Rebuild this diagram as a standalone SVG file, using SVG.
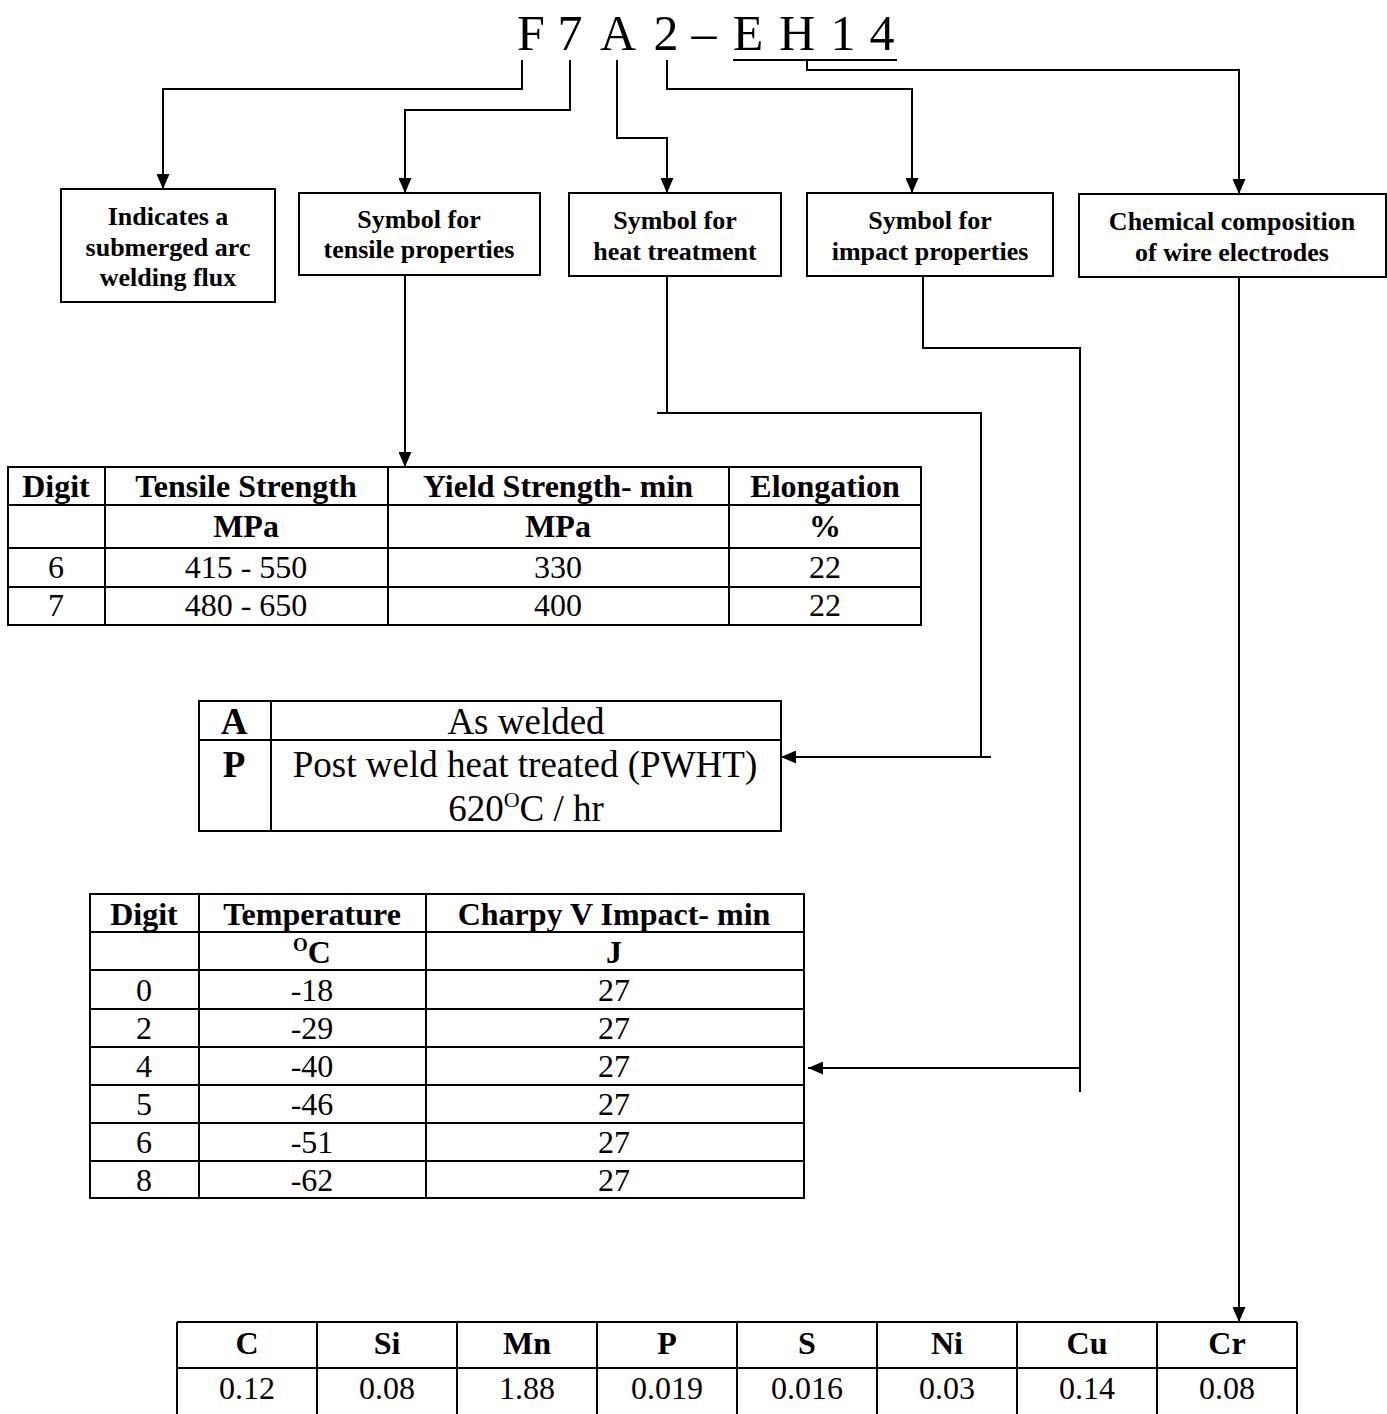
<svg xmlns="http://www.w3.org/2000/svg" width="1387" height="1414" viewBox="0 0 1387 1414">
<style>
.t{font-family:"Liberation Serif","Times New Roman",serif;fill:#000}
.title{font-size:50px}
.bx{font-size:26px;font-weight:bold;text-anchor:middle}
.h{font-size:32px;font-weight:bold;text-anchor:middle}
.d{font-size:32px;text-anchor:middle}
.ht{font-size:37px;text-anchor:middle}
.box{fill:#fff;stroke:#000;stroke-width:2}
.ln{fill:none;stroke:#000;stroke-width:2}
.c{fill:none;stroke:#000;stroke-width:2}
</style>
<defs>
<marker id="ah" viewBox="0 0 15 13" refX="15" refY="6.5" markerWidth="15" markerHeight="13" markerUnits="userSpaceOnUse" orient="auto">
<path d="M0,0 L15,6.5 L0,13 Z" fill="#000"/>
</marker>
</defs>
<rect width="1387" height="1414" fill="#fff"/>

<g id="title" class="t title" text-anchor="middle">
<text x="531" y="50">F</text>
<text x="570" y="50">7</text>
<text x="618" y="50">A</text>
<text x="666" y="50">2</text>
<text x="704" y="50">–</text>
<text x="748" y="50">E</text>
<text x="797" y="50">H</text>
<text x="843" y="50">1</text>
<text x="882" y="50">4</text>
<line x1="733" y1="60" x2="897" y2="60" stroke="#000" stroke-width="2"/>
</g>

<g id="connectors">
<polyline class="c" points="522,60 522,89 163,89 163,189" marker-end="url(#ah)"/>
<polyline class="c" points="570,60 570,110 405,110 405,193" marker-end="url(#ah)"/>
<polyline class="c" points="617,60 617,138 667,138 667,193" marker-end="url(#ah)"/>
<polyline class="c" points="667,60 667,89 912,89 912,193" marker-end="url(#ah)"/>
<polyline class="c" points="807,60 807,70 1239,70 1239,194" marker-end="url(#ah)"/>
<line class="c" x1="405" y1="275" x2="405" y2="467" marker-end="url(#ah)"/>
<polyline class="c" points="667,276 667,413"/>
<polyline class="c" points="657,413 981,413 981,757"/>
<line class="c" x1="991" y1="757" x2="781" y2="757" marker-end="url(#ah)"/>
<polyline class="c" points="923,276 923,348 1080,348 1080,1092"/>
<line class="c" x1="1080" y1="1068" x2="808" y2="1068" marker-end="url(#ah)"/>
<line class="c" x1="1239" y1="277" x2="1239" y2="1322" marker-end="url(#ah)"/>
</g>

<g id="node-flux">
<rect class="box" x="61" y="189" width="214" height="113"/>
<text class="t bx" x="168" y="225">Indicates a</text>
<text class="t bx" x="168" y="256">submerged arc</text>
<text class="t bx" x="168" y="286">welding flux</text>
</g>
<g id="node-tensile">
<rect class="box" x="299" y="193" width="241" height="82"/>
<text class="t bx" x="419" y="228">Symbol for</text>
<text class="t bx" x="419" y="258">tensile properties</text>
</g>
<g id="node-heat">
<rect class="box" x="569" y="193" width="212" height="83"/>
<text class="t bx" x="675" y="229">Symbol for</text>
<text class="t bx" x="675" y="260">heat treatment</text>
</g>
<g id="node-impact">
<rect class="box" x="807" y="193" width="246" height="83"/>
<text class="t bx" x="930" y="229">Symbol for</text>
<text class="t bx" x="930" y="260">impact properties</text>
</g>
<g id="node-chem">
<rect class="box" x="1079" y="194" width="307" height="83"/>
<text class="t bx" x="1232" y="230">Chemical composition</text>
<text class="t bx" x="1232" y="261">of wire electrodes</text>
</g>

<g id="table-tensile">
<rect class="box" x="8" y="467" width="913" height="158"/>
<line class="ln" x1="8" y1="505" x2="921" y2="505"/>
<line class="ln" x1="8" y1="548" x2="921" y2="548"/>
<line class="ln" x1="8" y1="587" x2="921" y2="587"/>
<line class="ln" x1="105" y1="467" x2="105" y2="625"/>
<line class="ln" x1="388" y1="467" x2="388" y2="625"/>
<line class="ln" x1="729" y1="467" x2="729" y2="625"/>
<text class="t h" x="56" y="497">Digit</text>
<text class="t h" x="246" y="497">Tensile Strength</text>
<text class="t h" x="558" y="497">Yield Strength- min</text>
<text class="t h" x="825" y="497">Elongation</text>
<text class="t h" x="246" y="537">MPa</text>
<text class="t h" x="558" y="537">MPa</text>
<text class="t h" x="825" y="537">%</text>
<text class="t d" x="56" y="578">6</text>
<text class="t d" x="246" y="578">415 - 550</text>
<text class="t d" x="558" y="578">330</text>
<text class="t d" x="825" y="578">22</text>
<text class="t d" x="56" y="616">7</text>
<text class="t d" x="246" y="616">480 - 650</text>
<text class="t d" x="558" y="616">400</text>
<text class="t d" x="825" y="616">22</text>
</g>

<g id="table-heat">
<rect class="box" x="199" y="701" width="582" height="130"/>
<line class="ln" x1="199" y1="740" x2="781" y2="740"/>
<line class="ln" x1="271" y1="701" x2="271" y2="831"/>
<text class="t ht" x="234" y="734" font-weight="bold">A</text>
<text class="t ht" x="526" y="734">As welded</text>
<text class="t ht" x="234" y="777" font-weight="bold">P</text>
<text class="t ht" x="525" y="777">Post weld heat treated (PWHT)</text>
<text class="t ht" x="526" y="821">620<tspan font-size="22" dy="-14">O</tspan><tspan dy="14">C / hr</tspan></text>
</g>

<g id="table-impact">
<rect class="box" x="90" y="894" width="714" height="304"/>
<line class="ln" x1="90" y1="932" x2="804" y2="932"/>
<line class="ln" x1="90" y1="970" x2="804" y2="970"/>
<line class="ln" x1="90" y1="1009" x2="804" y2="1009"/>
<line class="ln" x1="90" y1="1047" x2="804" y2="1047"/>
<line class="ln" x1="90" y1="1085" x2="804" y2="1085"/>
<line class="ln" x1="90" y1="1123" x2="804" y2="1123"/>
<line class="ln" x1="90" y1="1161" x2="804" y2="1161"/>
<line class="ln" x1="199" y1="894" x2="199" y2="1198"/>
<line class="ln" x1="426" y1="894" x2="426" y2="1198"/>
<text class="t h" x="144" y="925">Digit</text>
<text class="t h" x="312" y="925">Temperature</text>
<text class="t h" x="614" y="925">Charpy V Impact- min</text>
<text class="t h" x="312" y="963"><tspan font-size="19" dy="-12">O</tspan><tspan dy="12">C</tspan></text>
<text class="t h" x="614" y="963">J</text>
<g class="t d">
<text x="144" y="1001">0</text><text x="312" y="1001">-18</text><text x="614" y="1001">27</text>
<text x="144" y="1039">2</text><text x="312" y="1039">-29</text><text x="614" y="1039">27</text>
<text x="144" y="1077">4</text><text x="312" y="1077">-40</text><text x="614" y="1077">27</text>
<text x="144" y="1115">5</text><text x="312" y="1115">-46</text><text x="614" y="1115">27</text>
<text x="144" y="1153">6</text><text x="312" y="1153">-51</text><text x="614" y="1153">27</text>
<text x="144" y="1191">8</text><text x="312" y="1191">-62</text><text x="614" y="1191">27</text>
</g>
</g>

<g id="table-chem">
<line class="ln" x1="177" y1="1322" x2="1297" y2="1322"/>
<line class="ln" x1="177" y1="1368" x2="1297" y2="1368"/>
<line class="ln" x1="177" y1="1322" x2="177" y2="1414"/>
<line class="ln" x1="317" y1="1322" x2="317" y2="1414"/>
<line class="ln" x1="457" y1="1322" x2="457" y2="1414"/>
<line class="ln" x1="597" y1="1322" x2="597" y2="1414"/>
<line class="ln" x1="737" y1="1322" x2="737" y2="1414"/>
<line class="ln" x1="877" y1="1322" x2="877" y2="1414"/>
<line class="ln" x1="1017" y1="1322" x2="1017" y2="1414"/>
<line class="ln" x1="1157" y1="1322" x2="1157" y2="1414"/>
<line class="ln" x1="1297" y1="1322" x2="1297" y2="1414"/>
<g class="t h">
<text x="247" y="1354">C</text><text x="387" y="1354">Si</text><text x="527" y="1354">Mn</text><text x="667" y="1354">P</text>
<text x="807" y="1354">S</text><text x="947" y="1354">Ni</text><text x="1087" y="1354">Cu</text><text x="1227" y="1354">Cr</text>
</g>
<g class="t d">
<text x="247" y="1399">0.12</text><text x="387" y="1399">0.08</text><text x="527" y="1399">1.88</text><text x="667" y="1399">0.019</text>
<text x="807" y="1399">0.016</text><text x="947" y="1399">0.03</text><text x="1087" y="1399">0.14</text><text x="1227" y="1399">0.08</text>
</g>
</g>
</svg>
